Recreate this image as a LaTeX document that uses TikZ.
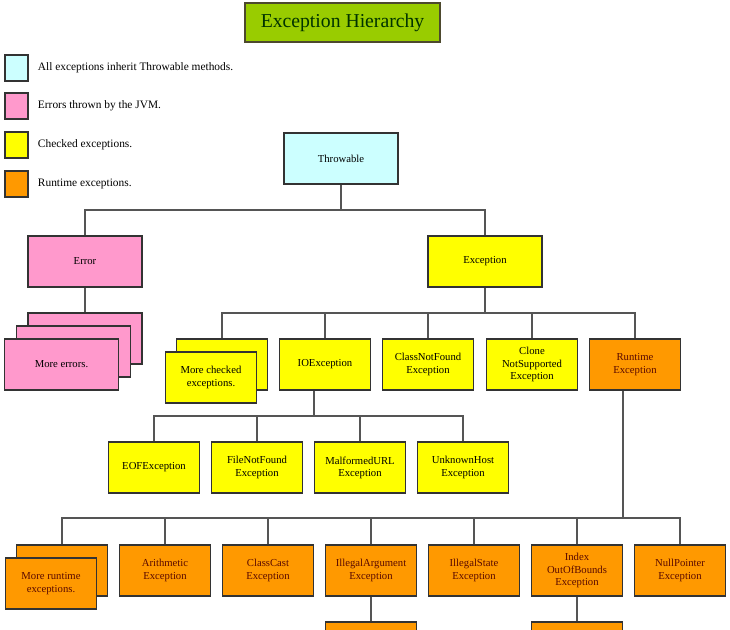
\documentclass[tikz,border=0pt]{standalone}
\usepackage{fontspec}
\setmainfont{Liberation Serif}
\definecolor{throwcol}{HTML}{CCFFFF}
\definecolor{errcol}{HTML}{FF99CC}
\definecolor{chkcol}{HTML}{FFFF00}
\definecolor{runcol}{HTML}{FF9900}
\definecolor{titlecol}{HTML}{99CC00}
\definecolor{titletext}{HTML}{003300}
\definecolor{runtext}{HTML}{5A0A00}
\definecolor{linecol}{HTML}{555555}
\begin{document}
\begin{tikzpicture}[x=0.025cm, y=-0.025cm,
  every node/.style={font=\fontsize{7.6}{8.7}\selectfont, align=center},
  box/.style={draw=black!80, line width=1pt, minimum width=2.275cm, minimum height=1.275cm, inner sep=1pt},
  wide/.style={box, minimum width=2.85cm},
  chk/.style={box, fill=chkcol},
  rt/.style={box, fill=runcol, text=runtext},
  conn/.style={draw=linecol, line width=1.4pt},
  key/.style={draw=black!80, line width=1pt, minimum width=0.575cm, minimum height=0.65cm, inner sep=0pt},
  keytext/.style={anchor=west, font=\fontsize{8.1}{10}\selectfont}]
\useasboundingbox (0,0) rectangle (730,630);
\clip (0,0) rectangle (730,630);
% title and legend
\node[draw=black!60!olive, line width=1pt, fill=titlecol, text=titletext, minimum width=4.875cm, minimum height=0.975cm, font=\fontsize{14}{16}\selectfont] (title) at (342.5,22.5) {Exception Hierarchy};
\node[key, fill=throwcol] (k1) at (16.5,68) {};
\node[key, fill=errcol] (k2) at (16.5,106) {};
\node[key, fill=chkcol] (k3) at (16.5,145) {};
\node[key, fill=runcol] (k4) at (16.5,184) {};
\node[keytext] (t1) at (33,68) {All exceptions inherit Throwable methods.};
\node[keytext] (t2) at (33,106) {Errors thrown by the JVM.};
\node[keytext] (t3) at (33,145) {Checked exceptions.};
\node[keytext] (t4) at (33,184) {Runtime exceptions.};
% top
\node[wide, fill=throwcol] (throw) at (341,158.5) {Throwable};
\node[wide, fill=errcol] (err) at (85,261.5) {Error};
\node[wide, fill=chkcol] (exc) at (485,261.5) {Exception};
\node[wide, fill=errcol] (err3) at (85,338.5) {};
\node[wide, fill=errcol] (err2) at (73.5,351.5) {};
\node[wide, fill=errcol] (errmore) at (61.5,364.5) {More errors.};
% checked
\node[chk] (chk2) at (222,364.5) {};
\node[chk] (chkmore) at (211,377.5) {More checked\\exceptions.};
\node[chk] (io) at (325,364.5) {IOException};
\node[chk] (cnf) at (428,364.5) {ClassNotFound\\Exception};
\node[chk] (cns) at (532,364.5) {Clone\\NotSupported\\Exception};
\node[rt] (rte) at (635,364.5) {Runtime\\Exception};
\node[chk] (eof) at (154,467.5) {EOFException};
\node[chk] (fnf) at (257,467.5) {FileNotFound\\Exception};
\node[chk] (murl) at (360,467.5) {MalformedURL\\Exception};
\node[chk] (uhost) at (463,467.5) {UnknownHost\\Exception};
% runtime
\node[rt] (rt2) at (62,570.5) {};
\node[rt] (rtmore) at (51,583.5) {More runtime\\exceptions.};
\node[rt] (arith) at (165,570.5) {Arithmetic\\Exception};
\node[rt] (ccast) at (268,570.5) {ClassCast\\Exception};
\node[rt] (iarg) at (371,570.5) {IllegalArgument\\Exception};
\node[rt] (istate) at (474,570.5) {IllegalState\\Exception};
\node[rt] (ioob) at (577,570.5) {Index\\OutOfBounds\\Exception};
\node[rt] (npe) at (680,570.5) {NullPointer\\Exception};
\node[rt] (iargsub) at (371,647.5) {};
\node[rt] (ioobsub) at (577,647.5) {};
% connectors
\coordinate (bus1) at (341,210);
\coordinate (bus2) at (485,313);
\coordinate (bus3) at (314,416);
\coordinate (bus4) at (623,518);
\draw[conn] (throw) -- (bus1);
\draw[conn] (err.north) |- (bus1) -| (exc.north);
\draw[conn] (err) -- (err3);
\draw[conn] (exc) -- (bus2);
\draw[conn] (chk2.north) |- (bus2) -| (rte.north);
\foreach \n in {io,cnf,cns} \draw[conn] (\n.north) -- (\n.north |- bus2);
\draw[conn] (bus3 |- io.south) -- (bus3);
\draw[conn] (eof.north) |- (bus3) -| (uhost.north);
\foreach \n in {fnf,murl} \draw[conn] (\n.north) -- (\n.north |- bus3);
\draw[conn] (bus4 |- rte.south) -- (bus4);
\draw[conn] (rt2.north) |- (bus4) -| (npe.north);
\foreach \n in {arith,ccast,iarg,istate,ioob} \draw[conn] (\n.north) -- (\n.north |- bus4);
\draw[conn] (iarg) -- (iargsub);
\draw[conn] (ioob) -- (ioobsub);
\end{tikzpicture}
\end{document}
